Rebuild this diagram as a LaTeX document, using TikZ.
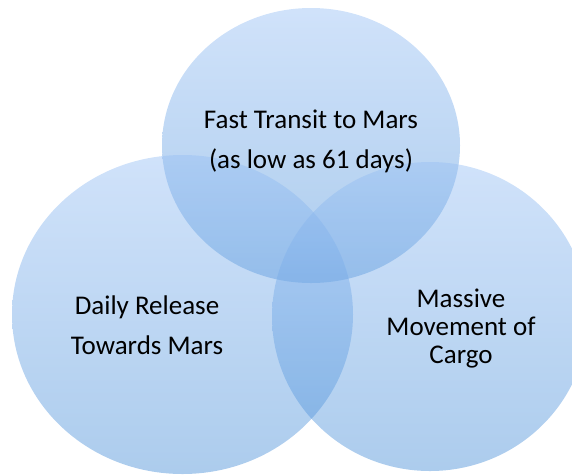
\documentclass[tikz,border=0pt]{standalone}
\usepackage{fontspec}
\setmainfont{Carlito}
\usetikzlibrary{shapes.geometric}

\definecolor{venntop}{RGB}{151,191,244}
\definecolor{vennbot}{RGB}{71,142,215}

\tikzset{
  venn/.style={ellipse, inner sep=0pt, outer sep=0pt, draw=none,
    top color=venntop, bottom color=vennbot, fill opacity=0.45},
  lbl/.style={align=center, text=black, inner sep=0pt,
    font=\fontsize{27}{40}\selectfont}
}

\begin{document}
\begin{tikzpicture}[x=1pt,y=-1pt]
    \useasboundingbox (0,0) rectangle (572,475);

    % Circles

    \node[venn, minimum width=298pt, minimum height=275pt] (fast) at (311,145.5) {};
    \node[venn, minimum width=341pt, minimum height=319pt] (daily) at (182.5,314.5) {};
    \node[venn, minimum width=316pt, minimum height=309pt] (cargo) at (430,316.5) {};

    % Labels

    \node[lbl] (fasttxt) at (311,141) {Fast Transit to Mars\\(as low as 61 days)};
    \node[lbl] (dailytxt) at (147,325) {Daily Release\\Towards Mars};
    \node[lbl, font=\fontsize{27}{28}\selectfont] (cargotxt) at (461,329) {Massive\\Movement of\\Cargo};

\end{tikzpicture}
\end{document}
